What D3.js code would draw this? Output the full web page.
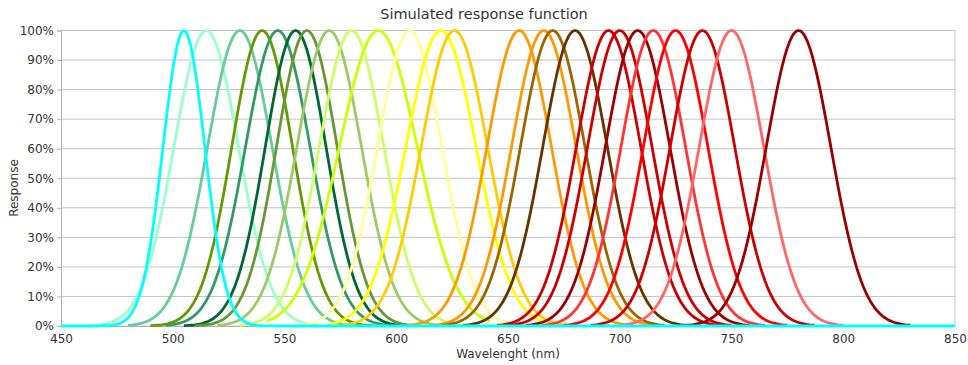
<!DOCTYPE html>
<html>
<head>
<meta charset="utf-8">
<script src="https://cdn.jsdelivr.net/npm/d3@7"></script>
<style>
  html, body { margin: 0; padding: 0; background: #fff; }
  svg { display: block; font-family: "DejaVu Sans", sans-serif; }
</style>
</head>
<body>
<svg id="chart" width="968" height="365"></svg>
<script>
// Channel peak wavelengths (nm)
const peaks = [505, 515, 530, 540, 547, 555, 560, 570, 580, 592, 606, 620, 626,
               655, 666, 670, 680, 695, 700, 708, 715, 725, 737, 750, 780];
// Channel full width at half maximum (nm)
const fwhm = [22, 34, 34, 32, 34, 32, 32, 34, 34, 41, 34, 37, 35,
              34, 34, 34, 34, 34, 34, 34, 34, 34, 34, 34, 34];
// Half-span of each simulated channel around its peak (nm); the first channel covers the whole axis
const spans = [400, 50, 50, 50, 50, 50, 50, 50, 50, 50, 50, 50, 50,
               50, 50, 50, 50, 50, 50, 50, 50, 50, 50, 50, 50];
// Line colours per channel
const colors = ["#00ffff", "#99ffcc", "#66cc99", "#669900", "#339966", "#006633", "#669933",
                "#99cc66", "#ccff66", "#ccff00", "#ffff99", "#ffff00", "#ffcc00",
                "#ff9900", "#ff9900", "#996600", "#663300", "#cc0000", "#cc0000", "#990000",
                "#ff3333", "#ff0000", "#cc0000", "#ff6666", "#990000"];
// Sampled wavelengths along the axis
const wavelengths = d3.range(450, 850.5, 1);
const xTicks = [450, 500, 550, 600, 650, 700, 750, 800, 850];
const yTicks = [0, 0.1, 0.2, 0.3, 0.4, 0.5, 0.6, 0.7, 0.8, 0.9, 1.0];

const svg = d3.select("#chart");
const plot = { left: 61, right: 955, top: 30.5, bottom: 326 };
const x = d3.scaleLinear().domain([450, 850]).range([plot.left, plot.right]);
const y = d3.scaleLinear().domain([0, 1]).range([plot.bottom, plot.top]);

// Gaussian channel response
function response(w, peak, width) {
  const s = width / (2 * Math.sqrt(2 * Math.LN2));
  return Math.exp(-((w - peak) ** 2) / (2 * s * s));
}

// Horizontal grid
svg.append("g")
  .selectAll("line")
  .data(yTicks)
  .join("line")
  .attr("x1", plot.left).attr("x2", plot.right)
  .attr("y1", d => y(d)).attr("y2", d => y(d))
  .attr("stroke", "#c4c4c4").attr("stroke-width", 1);

// Right border
svg.append("line")
  .attr("x1", plot.right).attr("x2", plot.right).attr("y1", plot.top).attr("y2", plot.bottom)
  .attr("stroke", "#c4c4c4");

// Y axis
const yAxis = svg.append("g")
  .attr("transform", `translate(${plot.left},0)`)
  .call(d3.axisLeft(y).tickValues(yTicks).tickFormat(d3.format(".0%")).tickSize(4).tickPadding(3));
yAxis.select(".domain").attr("stroke", "#b3b3b3");
yAxis.selectAll(".tick line").attr("stroke", "#b3b3b3");
yAxis.selectAll("text").attr("font-size", 12).attr("fill", "#333").attr("font-family", "DejaVu Sans, sans-serif");

// X axis
const xAxis = svg.append("g")
  .attr("transform", `translate(0,${plot.bottom})`)
  .call(d3.axisBottom(x).tickValues(xTicks).tickFormat(d3.format("d")).tickSize(0).tickPadding(8));
xAxis.select(".domain").attr("stroke", "#b3b3b3");
xAxis.selectAll("text").attr("font-size", 12).attr("fill", "#333").attr("font-family", "DejaVu Sans, sans-serif");

// Curves: every channel except the first, then the first on top
const line = d3.line().x(d => x(d[0])).y(d => y(d[1])).curve(d3.curveLinear);
const order = d3.range(1, peaks.length).concat([0]);
svg.append("g")
  .attr("fill", "none")
  .attr("stroke-width", 2.8)
  .attr("stroke-linejoin", "round")
  .selectAll("path")
  .data(order)
  .join("path")
  .attr("stroke", i => colors[i])
  .attr("d", i => line(
    wavelengths
      .filter(w => Math.abs(w - peaks[i]) <= spans[i])
      .map(w => [w, response(w, peaks[i], fwhm[i])])));

// Titles
svg.append("text")
  .attr("x", 484).attr("y", 19)
  .attr("text-anchor", "middle").attr("font-size", 14.5).attr("fill", "#333")
  .text("Simulated response function");
svg.append("text")
  .attr("x", (plot.left + plot.right) / 2).attr("y", 358)
  .attr("text-anchor", "middle").attr("font-size", 12).attr("fill", "#333")
  .text("Wavelenght (nm)");
svg.append("text")
  .attr("transform", "translate(18,188) rotate(-90)")
  .attr("text-anchor", "middle").attr("font-size", 12).attr("fill", "#333")
  .text("Response");
</script>
</body>
</html>
